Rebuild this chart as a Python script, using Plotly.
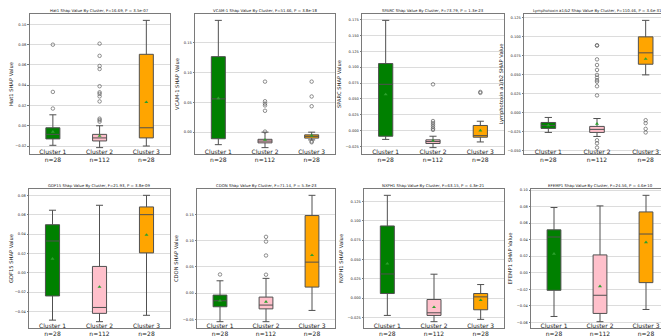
import plotly.graph_objects as go

CATEGORIES = ["Cluster 1<br>n=28", "Cluster 2<br>n=112", "Cluster 3<br>n=28"]
COLORS = ["#008000", "#FFC0CB", "#FFA500"]

TITLES = [
    "Hat1 Shap Value By Cluster, F=16.69, P = 3.5e-07",
    "VCAM-1 Shap Value By Cluster, F=51.66, P = 3.8e-18",
    "SPARC Shap Value By Cluster, F=73.79, P = 1.3e-23",
    "Lymphotoxin a1/b2 Shap Value By Cluster, F=110.46, P = 3.6e-31",
    "GDF15 Shap Value By Cluster, F=21.93, P = 3.8e-09",
    "CDON Shap Value By Cluster, F=71.14, P = 5.3e-23",
    "NXPH1 Shap Value By Cluster, F=63.15, P = 4.3e-21",
    "EFEMP1 Shap Value By Cluster, F=24.56, P = 4.6e-10",
]
YLABELS = [
    "Hat1 SHAP Value", "VCAM-1 SHAP Value", "SPARC SHAP Value",
    "Lymphotoxin a1/b2 SHAP Value", "GDF15 SHAP Value", "CDON SHAP Value",
    "NXPH1 SHAP Value", "EFEMP1 SHAP Value",
]

Q1 = [
    [-0.013, -0.015, -0.012],
    [-0.011, -0.018, -0.010],
    [-0.009, -0.0205, -0.0105],
    [-0.0204, -0.0257, 0.064],
    [-0.024, -0.042, 0.0205],
    [-0.026, -0.030, 0.0114],
    [0.006, -0.0223, -0.015],
    [-0.0213, -0.0493, -0.012],
]
MEDIAN = [
    [-0.0085, -0.012, -0.002],
    [0.056, -0.015, -0.007],
    [0.073, -0.0174, -0.008],
    [-0.0165, -0.0217, 0.079],
    [0.0328, -0.0359, 0.060],
    [-0.0146, -0.0228, 0.0589],
    [0.0313, -0.0189, 0.0017],
    [0.0433, -0.0273, 0.0469],
]
Q3 = [
    [-0.002, -0.0085, 0.0705],
    [0.127, -0.012, -0.0045],
    [0.1058, -0.0147, 0.008],
    [-0.0126, -0.0178, 0.100],
    [0.0496, 0.0065, 0.068],
    [-0.0038, -0.0076, 0.1475],
    [0.0934, -0.0017, 0.006],
    [0.052, 0.0216, 0.0737],
]
LOWER = [
    [-0.0193, -0.0216, -0.020],
    [-0.021, -0.026, -0.013],
    [-0.014, -0.027, -0.018],
    [-0.0257, -0.031, 0.050],
    [-0.049, -0.0506, -0.044],
    [-0.0544, -0.0544, -0.033],
    [-0.0223, -0.0304, -0.0274],
    [-0.053, -0.0593, -0.0445],
]
UPPER = [
    [0.0108, 0.0, 0.104],
    [0.188, 0.0, 0.0],
    [0.174, -0.009, 0.0147],
    [-0.006, -0.0074, 0.1217],
    [0.0646, 0.0697, 0.080],
    [0.0234, 0.028, 0.186],
    [0.133, 0.031, 0.0176],
    [0.079, 0.081, 0.0938],
]
MEAN = [
    [-0.006, -0.010, 0.0233],
    [0.057, -0.013, -0.006],
    [0.057, -0.016, 0.0],
    [-0.0165, -0.0143, 0.071],
    [0.0144, -0.0147, 0.039],
    [-0.0146, -0.0165, 0.0722],
    [0.0446, -0.0116, -0.0026],
    [0.023, -0.0164, 0.0369],
]
OUTLIERS = [
    [[0.080, 0.0334, 0.017],
     [0.081, 0.069, 0.059, 0.056, 0.039, 0.033, 0.0315, 0.029, 0.024, 0.007, 0.0056, 0.004],
     []],
    [[], [0.085, 0.052, 0.048, 0.045, 0.036, 0.001], [0.085, 0.060, 0.0436, -0.0155, -0.017]],
    [[], [0.073, 0.015, 0.012, 0.009, 0.006, 0.003, 0.001], [0.061, 0.0595]],
    [[], [0.089, 0.0885, 0.0704, 0.063, 0.0565, 0.050, 0.0465, 0.043, 0.041, 0.035, 0.023,
          -0.036, -0.040, -0.0457],
     [-0.0096, -0.0135, -0.021, -0.0257]],
    [[], [], []],
    [[0.0354], [0.107, 0.098, 0.0715, 0.035], []],
    [[], [], []],
    [[], [], []],
]
TICK_STEP = [0.02, 0.05, 0.025, 0.025, 0.02, 0.05, 0.025, 0.02]
TICK_FMT = [".2f", ".2f", ".3f", ".3f", ".2f", ".2f", ".3f", ".2f"]

# panel placement in pixels (left, right, top, bottom)
W, H = 669, 336
PANELS_PX = [
    (21.5, 161.7, 6, 146), (187, 327, 6, 146), (354, 496, 6, 146), (516, 662, 6, 146),
    (21, 162, 181, 320), (189, 327, 181, 320), (356, 496, 181, 320), (523, 661, 181, 320),
]

FONT = "DejaVu Sans"
fig = go.Figure()
layout = {}
annotations = []

for i in range(8):
    xa = "x" if i == 0 else f"x{i+1}"
    ya = "y" if i == 0 else f"y{i+1}"
    for j in range(3):
        fig.add_trace(go.Box(
            x=[CATEGORIES[j]], q1=[Q1[i][j]], median=[MEDIAN[i][j]], q3=[Q3[i][j]],
            lowerfence=[LOWER[i][j]], upperfence=[UPPER[i][j]],
            width=0.3, whiskerwidth=0.5, fillcolor=COLORS[j],
            line=dict(color="#505050", width=1), boxpoints=False,
            xaxis=xa, yaxis=ya, showlegend=False, hoverinfo="skip",
        ))
        if OUTLIERS[i][j]:
            fig.add_trace(go.Scatter(
                x=[CATEGORIES[j]] * len(OUTLIERS[i][j]), y=OUTLIERS[i][j], mode="markers",
                marker=dict(symbol="circle-open", size=3.5, color="#606060", line=dict(width=0.7)),
                xaxis=xa, yaxis=ya, showlegend=False, hoverinfo="skip",
            ))
    fig.add_trace(go.Scatter(
        x=CATEGORIES, y=MEAN[i], mode="markers",
        marker=dict(symbol="triangle-up", size=3.5, color="#2ca02c"),
        xaxis=xa, yaxis=ya, showlegend=False, hoverinfo="skip",
    ))

    allv = LOWER[i] + UPPER[i] + [v for o in OUTLIERS[i] for v in o]
    lo, hi = min(allv), max(allv)
    pad = (hi - lo) * 0.05
    l, r, t, b = PANELS_PX[i]
    xkey = "xaxis" if i == 0 else f"xaxis{i+1}"
    ykey = "yaxis" if i == 0 else f"yaxis{i+1}"
    layout[xkey] = dict(
        domain=[l / W, r / W], anchor=ya, type="category",
        categoryorder="array", categoryarray=CATEGORIES, range=[-0.5, 2.5],
        showgrid=False, showline=True, mirror=True, linecolor="#7a7a7a", linewidth=1,
        ticks="", ticklabelstandoff=-8,
        tickfont=dict(family=FONT, size=6, color="#222"), zeroline=False,
    )
    layout[ykey] = dict(
        domain=[1 - b / H, 1 - t / H], anchor=xa, range=[lo - pad, hi + pad],
        tick0=0, dtick=TICK_STEP[i], tickformat=TICK_FMT[i],
        showgrid=True, gridcolor="#dcdcdc", gridwidth=1, zeroline=False,
        showline=True, mirror=True, linecolor="#7a7a7a", linewidth=1,
        ticks="outside", ticklen=1.5, tickcolor="#7a7a7a",
        tickfont=dict(family=FONT, size=3.6, color="#222"),
        title=dict(text=YLABELS[i], font=dict(family=FONT, size=5.2, color="#222"), standoff=3),
    )
    annotations.append(dict(
        text=TITLES[i], x=(l + r) / 2 / W, y=1 - t / H, xref="paper", yref="paper",
        xanchor="center", yanchor="bottom", showarrow=False, yshift=0, borderpad=0,
        font=dict(family=FONT, size=3.9, color="#222"),
    ))

fig.update_layout(
    width=W, height=H, margin=dict(l=0, r=0, t=0, b=0),
    paper_bgcolor="white", plot_bgcolor="white", boxmode="overlay",
    annotations=annotations, **layout,
)
fig.write_html("out.html")
